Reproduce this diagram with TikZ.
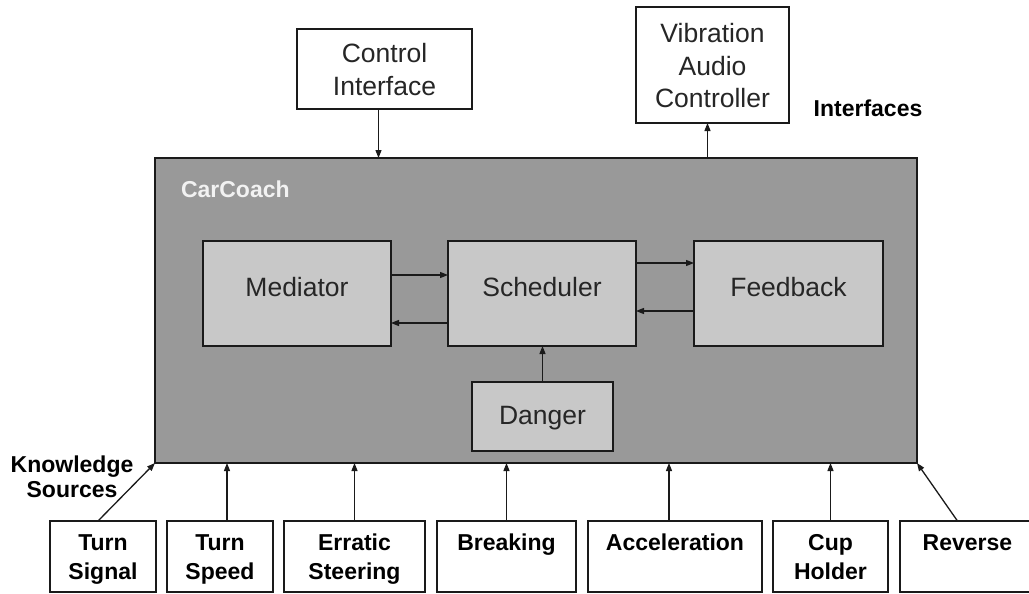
\documentclass[tikz,border=0pt]{standalone}
\usepackage{fontspec}
\setmainfont{Liberation Sans}
\usetikzlibrary{arrows.meta,calc}
\definecolor{outerfill}{HTML}{999999}
\definecolor{innerfill}{HTML}{C8C8C8}
\definecolor{edge}{HTML}{1A1A1A}
\definecolor{titletext}{HTML}{F2F2F2}
\newcommand{\mlines}[1]{\begin{tabular}[t]{@{}c@{}}#1\end{tabular}}
\begin{document}
\begin{tikzpicture}[x=1pt,y=-1pt,
  every node/.style={inner sep=0pt, outer sep=0pt},
  boxline/.style={draw=edge, line width=1.3pt},
  ifacebox/.style={boxline, fill=white, anchor=north west, text=black!85,
    font=\fontsize{26.5}{32.5}\selectfont},
  modbox/.style={boxline, fill=innerfill, anchor=north west, text=black!85,
    font=\fontsize{26.5}{32}\selectfont},
  srcbox/.style={boxline, fill=white, anchor=north west, text height=29pt,
    text depth=42pt, font=\bfseries\fontsize{23}{29}\selectfont},
  tag/.style={font=\bfseries\fontsize{23}{25}\selectfont},
  arr/.style={draw=edge, line width=1.3pt, -{Triangle[length=8pt,width=6pt]}},
]
\clip (0,0) rectangle (1029,594);
\fill[white] (0,0) rectangle (1029,594);

% main system block
\node[boxline, fill=outerfill, anchor=north west, minimum width=762pt,
  minimum height=305pt] (car) at (155,158) {};
\node[tag, text=titletext, anchor=base west] (cartitle) at (181,197) {CarCoach};

% interfaces
\node[ifacebox, minimum width=175pt, text height=34pt, text depth=46pt]
  (ctrl) at (297,29) {\mlines{Control\\Interface}};
\node[ifacebox, minimum width=153pt, text height=36pt, text depth=80pt]
  (vib) at (636,7) {\mlines{Vibration\\Audio\\Controller}};
\node[tag, anchor=base] (ifaces) at (868,117) {Interfaces};

% internal modules
\node[modbox, minimum width=188pt, text height=55pt, text depth=50pt]
  (med) at (203,241) {Mediator};
\node[modbox, minimum width=188pt, text height=55pt, text depth=50pt]
  (sch) at (448,241) {Scheduler};
\node[modbox, minimum width=189pt, text height=55pt, text depth=50pt]
  (fb) at (694,241) {Feedback};
\node[modbox, minimum width=141pt, text height=42pt, text depth=27pt]
  (dan) at (472,382) {Danger};

% knowledge sources
\node[tag, anchor=base] (ks) at (72,472) {\mlines{Knowledge\\Sources}};
\node[srcbox, minimum width=106pt] (ts) at (50,521) {\mlines{Turn\\Signal}};
\node[srcbox, minimum width=106pt] (tsp) at (167,521) {\mlines{Turn\\Speed}};
\node[srcbox, minimum width=141pt] (es) at (284,521) {\mlines{Erratic\\Steering}};
\node[srcbox, minimum width=139pt] (br) at (437,521) {Breaking};
\node[srcbox, minimum width=174pt] (acc) at (588,521) {Acceleration};
\node[srcbox, minimum width=115pt] (cup) at (773,521) {\mlines{Cup\\Holder}};
\node[srcbox, minimum width=135pt] (rev) at (900,521) {Reverse};

% interface connectors
\draw[arr] ([xshift=-6pt]ctrl.south) -- ([xshift=-6pt]ctrl.south |- car.north);
\draw[arr] ([xshift=-5pt]vib.south |- car.north) -- ([xshift=-5pt]vib.south);

% module connectors
\draw[arr] ([yshift=-34pt]med.north east) -- ([yshift=-34pt]sch.north west);
\draw[arr] ([yshift=-82pt]sch.north west) -- ([yshift=-82pt]med.north east);
\draw[arr] ([yshift=-22pt]sch.north east) -- ([yshift=-22pt]fb.north west);
\draw[arr] ([yshift=-70pt]fb.north west) -- ([yshift=-70pt]sch.north east);
\draw[arr] (dan.north) -- (dan.north |- sch.south);

% source connectors
\draw[arr] ([xshift=-5pt]ts.north) -- (car.south west);
\draw[arr] ([xshift=7pt]tsp.north) -- ([xshift=7pt]tsp.north |- car.south);
\draw[arr] (es.north) -- (es.north |- car.south);
\draw[arr] (br.north) -- (br.north |- car.south);
\draw[arr] ([xshift=-6pt]acc.north) -- ([xshift=-6pt]acc.north |- car.south);
\draw[arr] (cup.north) -- (cup.north |- car.south);
\draw[arr] ([xshift=-10pt]rev.north) -- (car.south east);
\end{tikzpicture}
\end{document}
